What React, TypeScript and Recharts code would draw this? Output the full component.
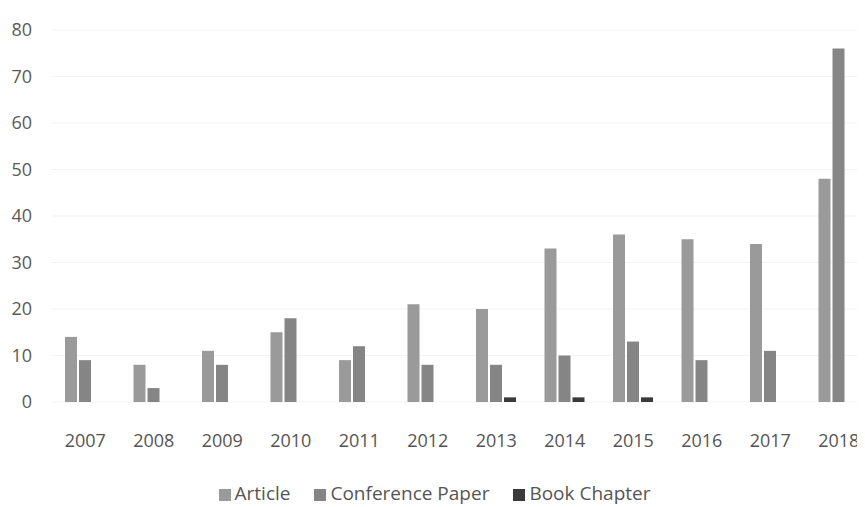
import React from "react";
import { BarChart, Bar, XAxis, YAxis, CartesianGrid, Legend } from "recharts";

const years = ["2007", "2008", "2009", "2010", "2011", "2012", "2013", "2014", "2015", "2016", "2017", "2018"];
const article = [14, 8, 11, 15, 9, 21, 20, 33, 36, 35, 34, 48];
const conference = [9, 3, 8, 18, 12, 8, 8, 10, 13, 9, 11, 76];
const bookChapter = [0, 0, 0, 0, 0, 0, 1, 1, 1, 0, 0, 0];
const yTicks = [0, 10, 20, 30, 40, 50, 60, 70, 80];
const seriesNames = ["Article", "Conference Paper", "Book Chapter"];

const data = years.map((y, i) => ({
  year: y,
  Article: article[i],
  "Conference Paper": conference[i],
  "Book Chapter": bookChapter[i] || null,
}));

const FONT = "'Open Sans', Lato, sans-serif";

export default function App() {
  return (
    <div style={{ marginLeft: -8, marginTop: -8, width: 865, height: 507, overflow: "hidden", background: "#fff" }}>
      <BarChart
        width={873}
        height={507}
        data={data}
        margin={{ top: 30, right: 0, bottom: 1, left: 0 }}
        barSize={12}
        barGap={2}
      >
        <CartesianGrid vertical={false} stroke="#f3f3f3" />
        <XAxis
          dataKey="year"
          axisLine={false}
          tickLine={false}
          height={78}
          tickMargin={26}
          tick={{ fill: "#555", fontSize: 18, fontFamily: FONT }}
        />
        <YAxis
          width={51}
          domain={[0, 80]}
          ticks={yTicks}
          axisLine={false}
          tickLine={false}
          tickSize={0}
          tickMargin={19}
          tick={{ fill: "#5a5a5a", fontSize: 18, fontFamily: FONT }}
        />
        <Legend
          iconType="square"
          iconSize={12}
          itemSorter={(item: any) => seriesNames.indexOf(item.value)}
          wrapperStyle={{ fontFamily: FONT, fontSize: 19, color: "#555", paddingLeft: 10 }}
          formatter={(v) => <span style={{ color: "#555", marginRight: 14 }}>{v}</span>}
        />
        <Bar dataKey="Article" fill="#9a9a9a" isAnimationActive={false} />
        <Bar dataKey="Conference Paper" fill="#858585" isAnimationActive={false} />
        <Bar dataKey="Book Chapter" fill="#3a3a3a" isAnimationActive={false} />
      </BarChart>
    </div>
  );
}
